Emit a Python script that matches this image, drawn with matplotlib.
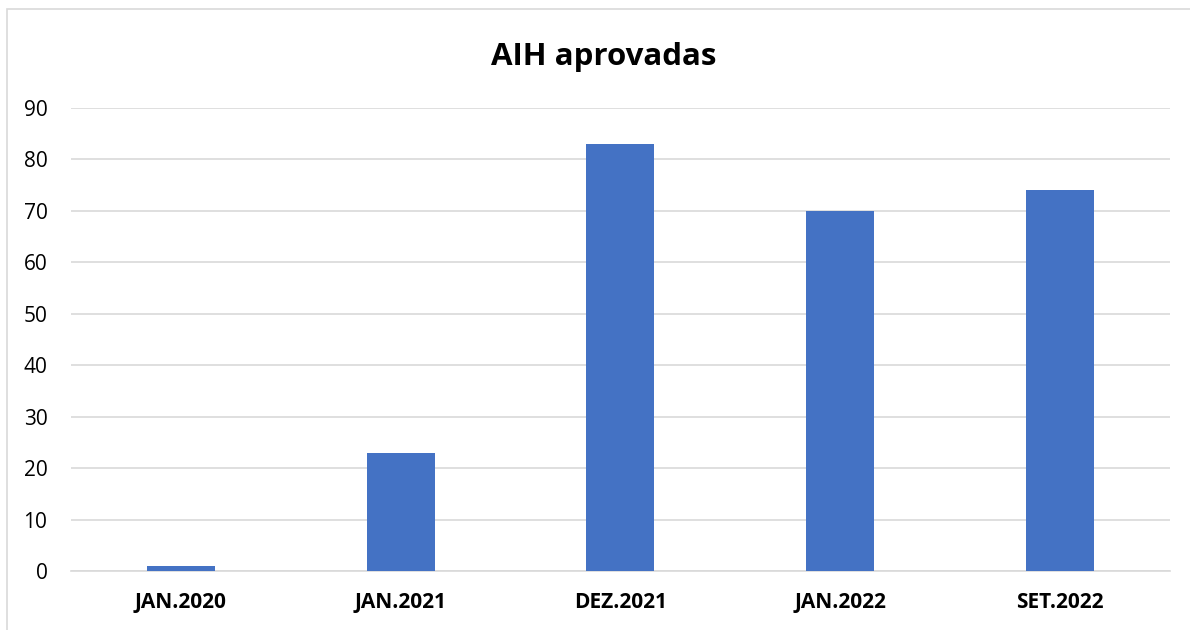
import matplotlib.pyplot as plt
from matplotlib.patches import Rectangle

categories = ["JAN.2020", "JAN.2021", "DEZ.2021", "JAN.2022", "SET.2022"]
values = [1, 23, 83, 70, 74]
yticks = [0, 10, 20, 30, 40, 50, 60, 70, 80, 90]

plt.rcParams['font.family'] = ['Open Sans', 'DejaVu Sans']

fig = plt.figure(figsize=(11.9, 6.3), dpi=100)
ax = fig.add_axes([0.0597, 0.0937, 0.9233, 0.7349])

x = list(range(len(categories)))
ax.bar(x, values, width=0.31, color="#4472C4", zorder=3)

ax.set_xlim(-0.5, len(categories) - 0.5)
ax.set_ylim(0, 90)
ax.set_yticks(yticks)
ax.set_xticks(x)
ax.set_xticklabels(categories, fontweight='bold', fontsize=15)
ax.tick_params(axis='y', labelsize=15, length=0, pad=17)
ax.tick_params(axis='x', length=0, pad=15)
ax.grid(axis='y', color="#d9d9d9", linewidth=1.2, zorder=0)
for s in ['top', 'right', 'left']:
    ax.spines[s].set_visible(False)
ax.spines['bottom'].set_color("#d9d9d9")
ax.spines['bottom'].set_linewidth(1.2)

fig.text(0.507, 0.91, "AIH aprovadas", ha='center', va='center',
         fontsize=22.5, fontweight='bold')

# chart frame
fig.patches.append(Rectangle((6.5 / 1190, -0.05), 1.1, 1.05 - 9.5 / 630,
                             transform=fig.transFigure, fill=False,
                             edgecolor="#d9d9d9", linewidth=1.2))

fig.savefig("out.png", dpi=100)
